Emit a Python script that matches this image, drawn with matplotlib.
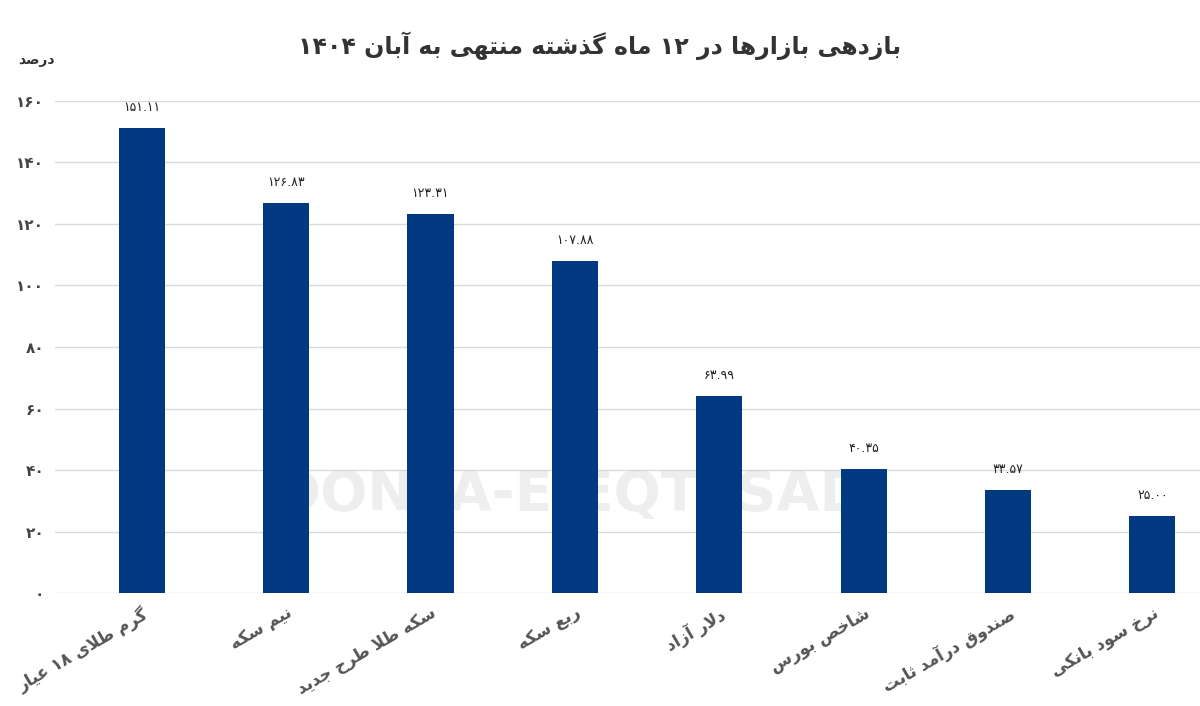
import matplotlib
matplotlib.use("Agg")
import matplotlib.pyplot as plt
import matplotlib.transforms as mtransforms

# Persian text needs shaping by hand (no arabic_reshaper available)
FORMS = {
    'ا': (0xFE8D, 0xFE8E), 'آ': (0xFE81, 0xFE82), 'د': (0xFEA9, 0xFEAA),
    'ذ': (0xFEAB, 0xFEAC), 'ر': (0xFEAD, 0xFEAE), 'ز': (0xFEAF, 0xFEB0),
    'و': (0xFEED, 0xFEEE),
    'ب': (0xFE8F, 0xFE90, 0xFE91, 0xFE92), 'ت': (0xFE95, 0xFE96, 0xFE97, 0xFE98),
    'ث': (0xFE99, 0xFE9A, 0xFE9B, 0xFE9C), 'ج': (0xFE9D, 0xFE9E, 0xFE9F, 0xFEA0),
    'ح': (0xFEA1, 0xFEA2, 0xFEA3, 0xFEA4), 'خ': (0xFEA5, 0xFEA6, 0xFEA7, 0xFEA8),
    'س': (0xFEB1, 0xFEB2, 0xFEB3, 0xFEB4), 'ش': (0xFEB5, 0xFEB6, 0xFEB7, 0xFEB8),
    'ص': (0xFEB9, 0xFEBA, 0xFEBB, 0xFEBC), 'ط': (0xFEC1, 0xFEC2, 0xFEC3, 0xFEC4),
    'ع': (0xFEC9, 0xFECA, 0xFECB, 0xFECC), 'ف': (0xFED1, 0xFED2, 0xFED3, 0xFED4),
    'ق': (0xFED5, 0xFED6, 0xFED7, 0xFED8), 'ل': (0xFEDD, 0xFEDE, 0xFEDF, 0xFEE0),
    'م': (0xFEE1, 0xFEE2, 0xFEE3, 0xFEE4), 'ن': (0xFEE5, 0xFEE6, 0xFEE7, 0xFEE8),
    'ه': (0xFEE9, 0xFEEA, 0xFEEB, 0xFEEC), 'ی': (0xFBFC, 0xFBFD, 0xFBFE, 0xFBFF),
    'ک': (0xFB8E, 0xFB8F, 0xFB90, 0xFB91), 'گ': (0xFB92, 0xFB93, 0xFB94, 0xFB95),
}


def fa(text):
    text = text.replace('لا', '\uE000')
    chars = list(text)
    out = []
    for i, c in enumerate(chars):
        prev = chars[i - 1] if i > 0 else ''
        nxt = chars[i + 1] if i + 1 < len(chars) else ''
        joins_prev = prev in FORMS and len(FORMS[prev]) == 4
        if c == '\uE000':
            out.append(chr(0xFEFC if joins_prev else 0xFEFB))
            continue
        if c not in FORMS:
            out.append(c)
            continue
        f = FORMS[c]
        joins_next = len(f) == 4 and (nxt in FORMS or nxt == '\uE000')
        if joins_prev and joins_next:
            out.append(chr(f[3]))
        elif joins_prev:
            out.append(chr(f[1]))
        elif joins_next:
            out.append(chr(f[2]))
        else:
            out.append(chr(f[0]))
    s = ''.join(out)[::-1]
    # keep digit runs left-to-right
    res, run = '', ''
    for c in s:
        if '۰' <= c <= '۹' or c == '.':
            run += c
        else:
            res += run[::-1] + c
            run = ''
    return res + run[::-1]


def fa_num(s):
    return s.translate(str.maketrans('0123456789', '۰۱۲۳۴۵۶۷۸۹'))


categories = ["گرم طلای ۱۸ عیار", "نیم سکه", "سکه طلا طرح جدید", "ربع سکه",
              "دلار آزاد", "شاخص بورس", "صندوق درآمد ثابت", "نرخ سود بانکی"]
values = [151.11, 126.83, 123.31, 107.88, 63.99, 40.35, 33.57, 25.00]
yticks = [0, 20, 40, 60, 80, 100, 120, 140, 160]

fig = plt.figure(figsize=(12, 7.06), dpi=100)
ax = fig.add_axes([0.046, 0.16, 0.954, 0.697])
x = range(len(values))
ax.bar(x, values, width=0.32, color='#023A82', zorder=3)
for xi, v in zip(x, values):
    ax.text(xi, v + 4.5, fa_num(f"{v:.2f}"), ha='center', va='bottom',
            fontsize=9, color='#222222')

ax.set_xlim(-0.6, 7.33)
ax.set_ylim(0, 160)
ax.set_yticks(yticks)
ax.set_yticklabels([fa_num(str(t)) for t in yticks], fontsize=11,
                   color='#444444', fontweight='bold')
ax.grid(axis='y', color='#d9d9d9', linewidth=1, zorder=0)
ax.set_xticks(list(x))
ax.set_xticklabels([fa(c) for c in categories], rotation=30, ha='right',
                   rotation_mode='anchor', fontsize=12, fontweight='bold',
                   color='#555555')
shift = mtransforms.ScaledTranslation(0.45, 0, fig.dpi_scale_trans)
for lbl in ax.get_xticklabels():
    lbl.set_transform(lbl.get_transform() + shift)
ax.tick_params(length=0, pad=8)
for sp in ax.spines.values():
    sp.set_visible(False)

ax.text(0.45, 0.2, "DONYA-E-EQTESAD", transform=ax.transAxes, fontsize=40,
        fontweight='bold', color='#eeeeee', ha='center', va='center', zorder=1)

fig.text(0.5, 0.935, fa("بازدهی بازارها در ۱۲ ماه گذشته منتهی به آبان ۱۴۰۴"),
         ha='center', va='center', fontsize=17, fontweight='bold', color='#333333')
fig.text(0.03, 0.915, fa("درصد"), ha='center', va='center', fontsize=10,
         fontweight='bold', color='#333333')

fig.savefig("out.png", dpi=100)
